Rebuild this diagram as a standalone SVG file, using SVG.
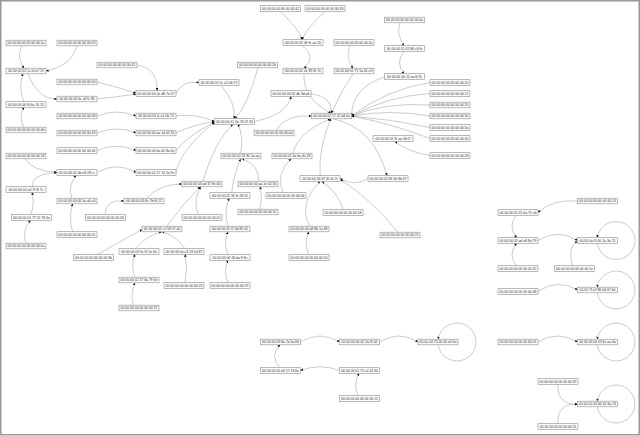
<svg xmlns="http://www.w3.org/2000/svg" width="640" height="436" viewBox="0 0 640 436">
<defs>
<marker id="a" viewBox="0 0 10 10" refX="10" refY="5" markerWidth="2.6" markerHeight="2.6" markerUnits="userSpaceOnUse" orient="auto"><path d="M0,0L10,5L0,10z" fill="#111"/></marker>
<style>
.n rect{fill:#fbfbfb;stroke:#8c8c8c;stroke-width:0.6}
.n text{font-family:"Liberation Sans",Arial,sans-serif;font-size:3.4px;fill:#333;text-anchor:middle}
#edges path{fill:none;stroke:#a8a8a8;stroke-width:0.6;marker-end:url(#a)}
</style>
</defs>
<rect x="0.75" y="0.75" width="638.5" height="434" fill="#fff" stroke="#999" stroke-width="1.5"/>
<g id="edges">
<path d="M22 45.8 Q16 57 24 68.2"/>
<path d="M77 45.8 Q72 66 46 71"/>
<path d="M24 101.7 Q18 88 23 73.8"/>
<path d="M28 73.8 Q38 99.5 57 99"/>
<path d="M24 127.2 Q18 117 24 107.3"/>
<path d="M137 65 Q157.5 68 157 90.7"/>
<path d="M97 82 Q117 87 136 93"/>
<path d="M97 99 Q117 97 136 94"/>
<path d="M176 93 Q183 80 199 82.5"/>
<path d="M97 116 Q117 108 136 116"/>
<path d="M97 133 Q117 125 136 133"/>
<path d="M176 116 Q195 113 214.5 121.5"/>
<path d="M176 133 Q192 125 214.5 121.5"/>
<path d="M176 150.5 Q185 138 214.5 122"/>
<path d="M176 172.5 Q180 150 214.5 122.5"/>
<path d="M258 67.8 Q247.5 106 235 118.7"/>
<path d="M221 85.3 Q236.5 104 234 118.7"/>
<path d="M254.5 121.5 Q287.5 114.5 291 96.3"/>
<path d="M311 93.5 Q333 97 331.5 113.2"/>
<path d="M276 130.2 Q286 114 311.5 116"/>
<path d="M304 73.8 Q302.5 98.5 331 113.2"/>
<path d="M302 45.3 Q317 57 304 68.2"/>
<path d="M280 11.3 Q299 28.5 302 39.7"/>
<path d="M325 11.3 Q306.5 28.5 302 39.7"/>
<path d="M350 45.3 Q345 57 353 68.2"/>
<path d="M353 73.8 Q340 92.5 331.5 113.2"/>
<path d="M400 22.8 Q396 34 404 45.7"/>
<path d="M404 51.3 Q395 62.5 404 73.7"/>
<path d="M384.5 77 Q352 87.5 351.5 116"/>
<path d="M430 82.5 Q385 90 351.5 116"/>
<path d="M430 93.5 Q388 96 351.5 116"/>
<path d="M430 105 Q385 102 351.5 116"/>
<path d="M430 116 Q390 109 351.5 116"/>
<path d="M430 127.5 Q390 119 351.5 116"/>
<path d="M430 138.5 Q393 124 351.5 116"/>
<path d="M430 155.5 Q407.5 152 395 141.3"/>
<path d="M333 118.8 Q374 127.5 387 175.7"/>
<path d="M320 175.7 Q318.5 146.5 331 118.8"/>
<path d="M293 153.2 Q298 132 330.5 118.8"/>
<path d="M368 178.5 Q355 187 340 178.5"/>
<path d="M398 232.2 Q372 200 340.5 179.5"/>
<path d="M343 209.7 Q339.5 194.5 322 181.3"/>
<path d="M310 226.2 Q297.5 204.5 320 181.3"/>
<path d="M309 254.7 Q303 243.5 309 231.8"/>
<path d="M283 192.7 Q275 174 291 158.8"/>
<path d="M240.7 153.2 Q244 137 238 124.3"/>
<path d="M202.7 181.2 Q215.5 140 233 124.3"/>
<path d="M231.7 192.7 Q233.8 174 240.7 158.8"/>
<path d="M258.3 181.2 Q260 165 242 158.8"/>
<path d="M260 209.2 Q263 198 260 186.8"/>
<path d="M228 226.2 Q223.3 210 229.3 198.3"/>
<path d="M228 254.7 Q223 243.5 228 231.8"/>
<path d="M228 282.7 Q223 271.5 228 260.3"/>
<path d="M147 198.2 Q159.5 184 182 184"/>
<path d="M105 214.7 Q105.5 199 124 201"/>
<path d="M198.3 214.7 Q192.5 201.7 200.7 186.8"/>
<path d="M166.7 226.2 Q183 204 200 186.8"/>
<path d="M97 254.7 Q118 243 142 229.5"/>
<path d="M135 248.7 Q145.7 236 161.7 231.8"/>
<path d="M185 248.7 Q176.7 236 162 231.8"/>
<path d="M135 277.2 Q130.5 266 135 254.3"/>
<path d="M185 282.7 Q188 268.5 185 254.3"/>
<path d="M133.3 305.2 Q130 294 135 282.8"/>
<path d="M25 158.8 Q32.4 171 57 172.5"/>
<path d="M32.7 186.7 Q31 174 57 172.5"/>
<path d="M30.7 214.7 Q35 203.5 32 192.3"/>
<path d="M26 243.2 Q21.5 230 30.7 220.3"/>
<path d="M97 172.5 Q117 161 136 172.5"/>
<path d="M71.7 198.2 Q67.6 186.3 76 175.3"/>
<path d="M72.7 231.7 Q68 218 72.7 203.8"/>
<path d="M97 150.5 Q116 142 136 150.5"/>
<path d="M577.5 201 Q552 199 538 212.5"/>
<path d="M516 215.3 Q507.7 226.5 516.7 237.7"/>
<path d="M516 265.7 Q507.7 254.5 516.7 243.3"/>
<path d="M538 240.5 Q557.6 228 577.5 240.5"/>
<path d="M572.7 265.7 Q567 246.5 577.5 241.5"/>
<path d="M538 291.5 Q557.6 278 577.5 290"/>
<path d="M538 342 Q557.6 330 577.5 342"/>
<path d="M557.7 384.3 Q557.7 406 577.5 404"/>
<path d="M557.7 423.7 Q557.7 402.6 577.5 404.5"/>
<path d="M300.5 342 Q320 330 339.5 342"/>
<path d="M379.5 342 Q399 330 418 342"/>
<path d="M280 367.7 Q269 356.3 280 344.8"/>
<path d="M339.5 370.5 Q320 363 300.5 370.5"/>
<path d="M358 395.7 Q353 384.5 359 373.3"/>
<path d="M597.21 243.3 A19 19 0 1 0 597.21 237.7"/>
<path d="M597.21 292.8 A19 19 0 1 0 597.21 287.2"/>
<path d="M438.21 344.8 A19 19 0 1 0 438.21 339.2"/>
<path d="M597.21 344.8 A19 19 0 1 0 597.21 339.2"/>
<path d="M597.21 406.8 A19 19 0 1 0 597.21 401.2"/>
</g>
<g id="n1" class="n"><rect x="6" y="40.2" width="40" height="5.6"/><text x="26" y="44.2">00 00 00 00 00 00 00 1a</text></g>
<g id="n2" class="n"><rect x="57" y="40.2" width="40" height="5.6"/><text x="77" y="44.2">00 00 00 00 00 00 00 03</text></g>
<g id="n3" class="n"><rect x="6" y="68.2" width="40" height="5.6"/><text x="26" y="72.2">00 00 00 02 1c 0f a7 19</text></g>
<g id="n4" class="n"><rect x="97" y="62.2" width="40" height="5.6"/><text x="117" y="66.2">00 00 00 00 00 00 00 41</text></g>
<g id="n5" class="n"><rect x="57" y="79.2" width="40" height="5.6"/><text x="77" y="83.2">00 00 00 00 00 00 00 00</text></g>
<g id="n6" class="n"><rect x="136" y="90.7" width="40" height="5.6"/><text x="156" y="94.7">00 00 00 05 2e d8 7e 57</text></g>
<g id="n7" class="n"><rect x="57" y="96.2" width="40" height="5.6"/><text x="77" y="100.2">00 00 00 00 0c a9 fc 85</text></g>
<g id="n8" class="n"><rect x="6" y="101.7" width="40" height="5.6"/><text x="26" y="105.7">00 00 00 00 0f 6a 16 51</text></g>
<g id="n9" class="n"><rect x="6" y="127.2" width="40" height="5.6"/><text x="26" y="131.2">00 00 00 00 00 00 00 4b</text></g>
<g id="n10" class="n"><rect x="57" y="113.2" width="40" height="5.6"/><text x="77" y="117.2">00 00 00 00 00 00 00 08</text></g>
<g id="n11" class="n"><rect x="136" y="113.2" width="40" height="5.6"/><text x="156" y="117.2">00 00 00 01 fc a1 0b 72</text></g>
<g id="n12" class="n"><rect x="57" y="130.2" width="40" height="5.6"/><text x="77" y="134.2">00 00 00 00 00 00 00 43</text></g>
<g id="n13" class="n"><rect x="136" y="130.2" width="40" height="5.6"/><text x="156" y="134.2">00 00 00 00 aa 1d 02 35</text></g>
<g id="n14" class="n"><rect x="199" y="79.7" width="40" height="5.6"/><text x="219" y="83.7">00 00 00 01 5c a1 0b 72</text></g>
<g id="n15" class="n"><rect x="214.5" y="118.7" width="40" height="5.6"/><text x="234.5" y="122.7">00 00 00 01 3a 73 07 30</text></g>
<g id="n16" class="n"><rect x="260.5" y="5.7" width="40" height="5.6"/><text x="280.5" y="9.7">00 00 00 00 00 00 00 42</text></g>
<g id="n17" class="n"><rect x="305" y="5.7" width="40" height="5.6"/><text x="325" y="9.7">00 00 00 00 00 00 00 33</text></g>
<g id="n18" class="n"><rect x="384.5" y="17.2" width="40" height="5.6"/><text x="404.5" y="21.2">00 00 00 00 00 00 00 4a</text></g>
<g id="n19" class="n"><rect x="283" y="39.7" width="40" height="5.6"/><text x="303" y="43.7">00 00 00 02 49 fe aa 20</text></g>
<g id="n20" class="n"><rect x="334" y="39.7" width="40" height="5.6"/><text x="354" y="43.7">00 00 00 00 00 00 00 3a</text></g>
<g id="n21" class="n"><rect x="384.5" y="45.7" width="40" height="5.6"/><text x="404.5" y="49.7">00 00 00 01 42 84 c8 fe</text></g>
<g id="n22" class="n"><rect x="237.5" y="62.2" width="40" height="5.6"/><text x="257.5" y="66.2">00 00 00 00 00 00 00 2b</text></g>
<g id="n23" class="n"><rect x="283" y="68.2" width="40" height="5.6"/><text x="303" y="72.2">00 00 00 02 2e 89 f6 7e</text></g>
<g id="n24" class="n"><rect x="334" y="68.2" width="40" height="5.6"/><text x="354" y="72.2">00 00 00 01 71 5a 61 e3</text></g>
<g id="n25" class="n"><rect x="384.5" y="73.7" width="40" height="5.6"/><text x="404.5" y="77.7">00 00 00 00 22 aa f0 f5</text></g>
<g id="n26" class="n"><rect x="271" y="90.7" width="40" height="5.6"/><text x="291" y="94.7">00 00 00 00 02 db 3d eb</text></g>
<g id="n27" class="n"><rect x="311.5" y="113.2" width="40" height="5.6"/><text x="331.5" y="117.2">00 00 00 02 17 25 b4 0a</text></g>
<g id="n28" class="n"><rect x="254" y="130.2" width="40" height="5.6"/><text x="274" y="134.2">00 00 00 00 00 00 00 0d</text></g>
<g id="n29" class="n"><rect x="373" y="135.7" width="40" height="5.6"/><text x="393" y="139.7">00 00 00 01 f5 aa 2b f7</text></g>
<g id="n30" class="n"><rect x="430" y="79.7" width="40" height="5.6"/><text x="450" y="83.7">00 00 00 00 00 00 00 10</text></g>
<g id="n31" class="n"><rect x="430" y="90.7" width="40" height="5.6"/><text x="450" y="94.7">00 00 00 00 00 00 00 12</text></g>
<g id="n32" class="n"><rect x="430" y="102.2" width="40" height="5.6"/><text x="450" y="106.2">00 00 00 00 00 00 00 20</text></g>
<g id="n33" class="n"><rect x="430" y="113.2" width="40" height="5.6"/><text x="450" y="117.2">00 00 00 00 00 00 00 30</text></g>
<g id="n34" class="n"><rect x="430" y="124.7" width="40" height="5.6"/><text x="450" y="128.7">00 00 00 00 00 00 00 3a</text></g>
<g id="n35" class="n"><rect x="430" y="135.7" width="40" height="5.6"/><text x="450" y="139.7">00 00 00 00 00 00 00 40</text></g>
<g id="n36" class="n"><rect x="430" y="152.7" width="40" height="5.6"/><text x="450" y="156.7">00 00 00 00 00 00 00 28</text></g>
<g id="n37" class="n"><rect x="57" y="147.7" width="40" height="5.6"/><text x="77" y="151.7">00 00 00 00 00 00 00 46</text></g>
<g id="n38" class="n"><rect x="136" y="147.7" width="40" height="5.6"/><text x="156" y="151.7">00 00 00 00 0a 62 8a 3e</text></g>
<g id="n39" class="n"><rect x="6" y="153.2" width="40" height="5.6"/><text x="26" y="157.2">00 00 00 00 00 00 00 18</text></g>
<g id="n40" class="n"><rect x="57" y="169.7" width="40" height="5.6"/><text x="77" y="173.7">00 00 00 02 0b e8 28 cc</text></g>
<g id="n41" class="n"><rect x="136" y="169.7" width="40" height="5.6"/><text x="156" y="173.7">00 00 00 02 17 13 2a 9e</text></g>
<g id="n42" class="n"><rect x="6" y="186.7" width="40" height="5.6"/><text x="26" y="190.7">00 00 00 02 a4 7f 0f 7c</text></g>
<g id="n43" class="n"><rect x="182" y="181.2" width="40" height="5.6"/><text x="202" y="185.2">00 00 00 03 ad 37 8e 40</text></g>
<g id="n44" class="n"><rect x="57" y="198.2" width="40" height="5.6"/><text x="77" y="202.2">00 00 00 00 06 5a a6 a3</text></g>
<g id="n45" class="n"><rect x="124" y="198.2" width="40" height="5.6"/><text x="144" y="202.2">00 00 00 03 8c 7b f6 12</text></g>
<g id="n46" class="n"><rect x="11.5" y="214.7" width="40" height="5.6"/><text x="31.5" y="218.7">00 00 00 01 77 12 76 6e</text></g>
<g id="n47" class="n"><rect x="85.5" y="214.7" width="40" height="5.6"/><text x="105.5" y="218.7">00 00 00 00 00 00 00 26</text></g>
<g id="n48" class="n"><rect x="182" y="214.7" width="40" height="5.6"/><text x="202" y="218.7">00 00 00 00 00 00 00 02</text></g>
<g id="n49" class="n"><rect x="57" y="231.7" width="40" height="5.6"/><text x="77" y="235.7">00 00 00 00 00 00 00 22</text></g>
<g id="n50" class="n"><rect x="142" y="226.2" width="40" height="5.6"/><text x="162" y="230.2">00 00 00 02 c2 58 37 40</text></g>
<g id="n51" class="n"><rect x="6" y="243.2" width="40" height="5.6"/><text x="26" y="247.2">00 00 00 00 00 00 00 0a</text></g>
<g id="n52" class="n"><rect x="73.5" y="254.7" width="40" height="5.6"/><text x="93.5" y="258.7">00 00 00 00 00 00 00 3b</text></g>
<g id="n53" class="n"><rect x="119" y="248.7" width="40" height="5.6"/><text x="139" y="252.7">00 00 00 02 9c f0 1e 0e</text></g>
<g id="n54" class="n"><rect x="164" y="248.7" width="40" height="5.6"/><text x="184" y="252.7">00 00 00 0a c3 23 1d 87</text></g>
<g id="n55" class="n"><rect x="119" y="277.2" width="40" height="5.6"/><text x="139" y="281.2">00 00 00 02 17 6a 79 3e</text></g>
<g id="n56" class="n"><rect x="164" y="282.7" width="40" height="5.6"/><text x="184" y="286.7">00 00 00 00 00 00 00 23</text></g>
<g id="n57" class="n"><rect x="119" y="305.2" width="40" height="5.6"/><text x="139" y="309.2">00 00 00 00 00 00 00 37</text></g>
<g id="n58" class="n"><rect x="221" y="153.2" width="40" height="5.6"/><text x="241" y="157.2">00 00 00 02 32 81 5a aa</text></g>
<g id="n59" class="n"><rect x="272" y="153.2" width="40" height="5.6"/><text x="292" y="157.2">00 00 00 01 4a ba 4a 28</text></g>
<g id="n60" class="n"><rect x="300" y="175.7" width="40" height="5.6"/><text x="320" y="179.7">00 00 00 03 67 3f a5 2f</text></g>
<g id="n61" class="n"><rect x="368" y="175.7" width="40" height="5.6"/><text x="388" y="179.7">00 00 00 02 83 5b 8b 67</text></g>
<g id="n62" class="n"><rect x="238" y="181.2" width="40" height="5.6"/><text x="258" y="185.2">00 00 00 00 aa 1e 02 35</text></g>
<g id="n63" class="n"><rect x="210" y="192.7" width="40" height="5.6"/><text x="230" y="196.7">00 00 00 02 35 fe 28 52</text></g>
<g id="n64" class="n"><rect x="266" y="192.7" width="40" height="5.6"/><text x="286" y="196.7">00 00 00 00 00 00 00 0b</text></g>
<g id="n65" class="n"><rect x="238" y="209.2" width="40" height="5.6"/><text x="258" y="213.2">00 00 00 00 00 00 00 52</text></g>
<g id="n66" class="n"><rect x="323" y="209.7" width="40" height="5.6"/><text x="343" y="213.7">00 00 00 00 00 00 00 18</text></g>
<g id="n67" class="n"><rect x="210" y="226.2" width="40" height="5.6"/><text x="230" y="230.2">00 00 00 01 f7 0d 81 02</text></g>
<g id="n68" class="n"><rect x="289" y="226.2" width="40" height="5.6"/><text x="309" y="230.2">00 00 00 00 a8 8b 1a 38</text></g>
<g id="n69" class="n"><rect x="380" y="232.2" width="40" height="5.6"/><text x="400" y="236.2">00 00 00 00 00 00 00 25</text></g>
<g id="n70" class="n"><rect x="210" y="254.7" width="40" height="5.6"/><text x="230" y="258.7">00 00 00 00 2b ba ff 3e</text></g>
<g id="n71" class="n"><rect x="289" y="254.7" width="40" height="5.6"/><text x="309" y="258.7">00 00 00 00 00 00 00 50</text></g>
<g id="n72" class="n"><rect x="210" y="282.7" width="40" height="5.6"/><text x="230" y="286.7">00 00 00 00 00 00 00 29</text></g>
<g id="n73" class="n"><rect x="577.5" y="198.2" width="40" height="5.6"/><text x="597.5" y="202.2">00 00 00 00 00 00 00 13</text></g>
<g id="n74" class="n"><rect x="498" y="209.7" width="40" height="5.6"/><text x="518" y="213.7">00 00 00 01 25 4a 75 cb</text></g>
<g id="n75" class="n"><rect x="498" y="237.7" width="40" height="5.6"/><text x="518" y="241.7">00 00 00 02 ad a8 8a 79</text></g>
<g id="n76" class="n"><rect x="577.5" y="237.7" width="40" height="5.6"/><text x="597.5" y="241.7">00 00 0a f5 00 2a 3a 15</text></g>
<g id="n77" class="n"><rect x="498" y="265.7" width="40" height="5.6"/><text x="518" y="269.7">00 00 00 00 00 00 00 32</text></g>
<g id="n78" class="n"><rect x="554.5" y="265.7" width="40" height="5.6"/><text x="574.5" y="269.7">00 00 00 00 00 00 00 1e</text></g>
<g id="n79" class="n"><rect x="498" y="288.7" width="40" height="5.6"/><text x="518" y="292.7">00 00 00 00 00 00 00 48</text></g>
<g id="n80" class="n"><rect x="577.5" y="287.2" width="40" height="5.6"/><text x="597.5" y="291.2">00 02 7f a7 86 04 07 b4</text></g>
<g id="n81" class="n"><rect x="260.5" y="339.2" width="40" height="5.6"/><text x="280.5" y="343.2">00 00 00 03 8a 7d 0a 66</text></g>
<g id="n82" class="n"><rect x="339.5" y="339.2" width="40" height="5.6"/><text x="359.5" y="343.2">00 00 00 00 62 2a 9f 42</text></g>
<g id="n83" class="n"><rect x="418" y="339.2" width="40" height="5.6"/><text x="438" y="343.2">00 0a 24 75 00 00 e3 4a</text></g>
<g id="n84" class="n"><rect x="260.5" y="367.7" width="40" height="5.6"/><text x="280.5" y="371.7">00 00 00 00 e3 17 13 6e</text></g>
<g id="n85" class="n"><rect x="339.5" y="367.7" width="40" height="5.6"/><text x="359.5" y="371.7">00 00 00 01 72 c4 24 30</text></g>
<g id="n86" class="n"><rect x="339.5" y="395.7" width="40" height="5.6"/><text x="359.5" y="399.7">00 00 00 00 00 00 00 21</text></g>
<g id="n87" class="n"><rect x="498" y="339.2" width="40" height="5.6"/><text x="518" y="343.2">00 00 00 00 00 00 00 01</text></g>
<g id="n88" class="n"><rect x="577.5" y="339.2" width="40" height="5.6"/><text x="597.5" y="343.2">00 00 00 00 03 6c aa 4a</text></g>
<g id="n89" class="n"><rect x="538" y="378.7" width="40" height="5.6"/><text x="558" y="382.7">00 00 00 00 00 00 00 39</text></g>
<g id="n90" class="n"><rect x="577.5" y="401.2" width="40" height="5.6"/><text x="597.5" y="405.2">00 00 02 40 00 01 6a 74</text></g>
<g id="n91" class="n"><rect x="538" y="423.7" width="40" height="5.6"/><text x="558" y="427.7">00 00 00 00 00 00 00 11</text></g>
</svg>
